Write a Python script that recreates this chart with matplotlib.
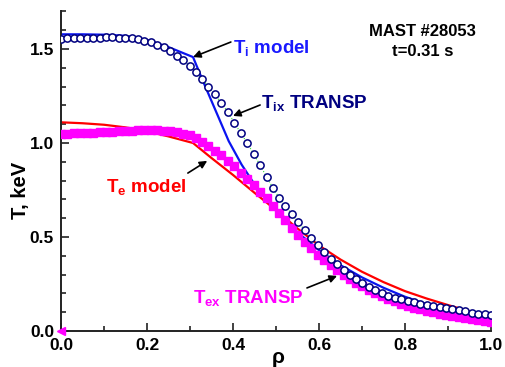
import matplotlib
matplotlib.use('Agg')
import matplotlib.pyplot as plt
from matplotlib.ticker import MultipleLocator

# pylint: disable=invalid-name

# TRANSP grid and profiles (keV)
rho_transp = [
    0.000, 0.015, 0.030, 0.045, 0.060, 0.075, 0.090, 0.104, 0.119, 0.134,
    0.149, 0.164, 0.179, 0.194, 0.209, 0.224, 0.239, 0.254, 0.269, 0.284,
    0.299, 0.313, 0.328, 0.343, 0.358, 0.373, 0.388, 0.403, 0.418, 0.433,
    0.448, 0.463, 0.478, 0.493, 0.507, 0.522, 0.537, 0.552, 0.567, 0.582,
    0.597, 0.612, 0.627, 0.642, 0.657, 0.672, 0.687, 0.701, 0.716, 0.731,
    0.746, 0.761, 0.776, 0.791, 0.806, 0.821, 0.836, 0.851, 0.866, 0.881,
    0.896, 0.910, 0.925, 0.940, 0.955, 0.970, 0.985, 1.000]
ti_transp = [
    1.555, 1.556, 1.557, 1.558, 1.559, 1.560, 1.561, 1.562, 1.562, 1.561,
    1.559, 1.556, 1.551, 1.545, 1.535, 1.523, 1.508, 1.488, 1.465, 1.440,
    1.410, 1.376, 1.340, 1.300, 1.258, 1.212, 1.164, 1.108, 1.053, 1.000,
    0.942, 0.882, 0.820, 0.760, 0.710, 0.665, 0.620, 0.578, 0.535, 0.495,
    0.455, 0.418, 0.385, 0.355, 0.327, 0.300, 0.275, 0.254, 0.235, 0.218,
    0.202, 0.188, 0.177, 0.168, 0.160, 0.153, 0.146, 0.140, 0.134, 0.128,
    0.122, 0.116, 0.110, 0.104, 0.098, 0.093, 0.088, 0.084]
te_transp = [
    1.048, 1.050, 1.051, 1.052, 1.053, 1.055, 1.056, 1.058, 1.060, 1.062,
    1.064, 1.066, 1.068, 1.069, 1.069, 1.068, 1.066, 1.062, 1.057, 1.049,
    1.040, 1.026, 1.007, 0.985, 0.960, 0.935, 0.905, 0.875, 0.843, 0.810,
    0.775, 0.740, 0.705, 0.665, 0.628, 0.590, 0.550, 0.510, 0.475, 0.440,
    0.405, 0.377, 0.350, 0.325, 0.300, 0.278, 0.257, 0.237, 0.218, 0.200,
    0.184, 0.170, 0.157, 0.145, 0.134, 0.124, 0.115, 0.107, 0.100, 0.093,
    0.087, 0.081, 0.075, 0.069, 0.063, 0.058, 0.052, 0.047]

# model profiles
rho_ti_model = [0.0, 0.05, 0.1, 0.15, 0.2, 0.25, 0.307, 0.33, 0.36, 0.39,
                0.42, 0.45, 0.5, 0.55, 0.6, 0.65, 0.7, 0.75, 0.8, 0.85,
                0.9, 0.95, 1.0]
ti_model = [1.578, 1.578, 1.576, 1.570, 1.548, 1.510, 1.457, 1.330, 1.170,
            1.010, 0.885, 0.780, 0.640, 0.525, 0.430, 0.350, 0.285, 0.230,
            0.182, 0.143, 0.110, 0.082, 0.058]
rho_te_model = [0.0, 0.05, 0.1, 0.15, 0.2, 0.25, 0.307, 0.35, 0.4, 0.45,
                0.5, 0.55, 0.6, 0.65, 0.7, 0.75, 0.8, 0.85, 0.9, 0.95, 1.0]
te_model = [1.110, 1.105, 1.097, 1.083, 1.062, 1.035, 1.000, 0.920, 0.830,
            0.735, 0.643, 0.545, 0.455, 0.380, 0.315, 0.260, 0.212, 0.173,
            0.138, 0.105, 0.075]

plt.rcParams['font.family'] = ['Liberation Sans', 'DejaVu Sans']
plt.rcParams['font.weight'] = 'bold'
plt.rcParams['mathtext.fontset'] = 'custom'
plt.rcParams['mathtext.rm'] = 'Liberation Sans:bold'
plt.rcParams['mathtext.it'] = 'Liberation Sans:bold'
plt.rcParams['mathtext.bf'] = 'Liberation Sans:bold'

fig = plt.figure(figsize=(5.05, 3.67), dpi=100)
ax = fig.add_axes([0.1208, 0.0981, 0.8515, 0.8709])

ax.plot(rho_te_model, te_model, color='#ff0000', lw=1.6, zorder=2)
ax.plot(rho_ti_model, ti_model, color='#0a14f0', lw=1.6, zorder=2)
ax.plot(rho_transp, te_transp, ls='none', marker='s', ms=5.2,
        color='#ff00ff', mec='#ff00ff', zorder=3)
ax.plot(rho_transp, ti_transp, ls=':', lw=0.8, color='#33dd33', zorder=3.5)
ax.plot(rho_transp, ti_transp, ls='none', marker='o', ms=5.2, mew=1.1,
        mfc='white', mec='#000080', zorder=4)
ax.plot([0], [0], ls='none', marker='<', ms=6, color='#ff00ff',
        clip_on=False, zorder=5)

ax.set_xlim(0, 1.0)
ax.set_ylim(0, 1.7)
ax.xaxis.set_major_locator(MultipleLocator(0.2))
ax.xaxis.set_minor_locator(MultipleLocator(0.1))
ax.yaxis.set_major_locator(MultipleLocator(0.5))
ax.yaxis.set_minor_locator(MultipleLocator(0.1))
ax.set_xticklabels([f'{v:.1f}' for v in ax.get_xticks()])
ax.set_yticklabels([f'{v:.1f}' for v in ax.get_yticks()])
ax.tick_params(which='both', direction='in', labelsize=12.5, width=1.2,
               color='#222222')
ax.tick_params(which='major', length=6)
ax.tick_params(which='minor', length=3.5)
ax.tick_params(axis='y', pad=5)
ax.tick_params(axis='x', pad=5)
for side in ('top', 'right'):
    ax.spines[side].set_visible(False)
for side in ('left', 'bottom'):
    ax.spines[side].set_linewidth(1.4)
    ax.spines[side].set_color('#222222')

ax.text(-0.095, 0.44, 'T, keV', transform=ax.transAxes, rotation=90,
        ha='center', va='center', fontsize=14.5)
ax.text(0.505, -0.052, 'ρ', transform=ax.transAxes, ha='center',
        va='top', fontsize=15)

# curve labels
ax.text(0.40, 1.479, r'T$_{\rm i}$ model', color='#1a1aff', fontsize=13.5,
        va='baseline')
ax.text(0.465, 1.186, r'T$_{\rm ix}$ TRANSP', color='#000080',
        fontsize=13.5, va='baseline')
ax.text(0.105, 0.739, r'T$_{\rm e}$ model', color='#ff0000', fontsize=13.5,
        va='baseline')
ax.text(0.307, 0.149, r'T$_{\rm ex}$ TRANSP', color='#ff00ff',
        fontsize=13.5, va='baseline')
ax.text(0.84, 1.593, 'MAST #28053', ha='center', va='center', fontsize=12)
ax.text(0.84, 1.484, 't=0.31 s', ha='center', va='center', fontsize=12)

arrow = dict(arrowstyle='-|>', color='k', lw=1.2, mutation_scale=11,
             shrinkA=0, shrinkB=0)
ax.annotate('', xy=(0.307, 1.457), xytext=(0.395, 1.537), arrowprops=arrow)
ax.annotate('', xy=(0.400, 1.144), xytext=(0.463, 1.202), arrowprops=arrow)
ax.annotate('', xy=(0.340, 0.905), xytext=(0.295, 0.840), arrowprops=arrow)
ax.annotate('', xy=(0.642, 0.293), xytext=(0.572, 0.229), arrowprops=arrow)

fig.savefig('out.png', dpi=100)
